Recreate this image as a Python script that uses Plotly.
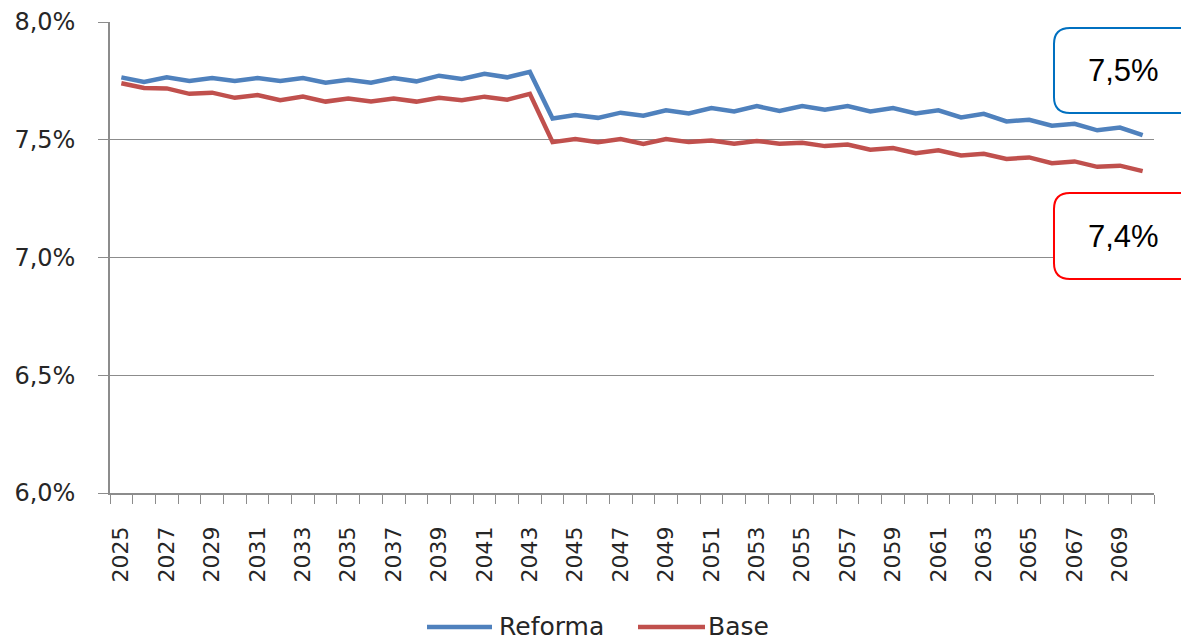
import plotly.graph_objects as go

years = list(range(2025, 2071))
reforma = [7.765, 7.745, 7.765, 7.750, 7.762, 7.750, 7.762, 7.750, 7.762, 7.742,
           7.755, 7.742, 7.762, 7.748, 7.772, 7.758, 7.780, 7.765, 7.788, 7.590,
           7.605, 7.593, 7.615, 7.602, 7.625, 7.612, 7.635, 7.620, 7.643, 7.622,
           7.643, 7.628, 7.643, 7.620, 7.635, 7.612, 7.625, 7.595, 7.610, 7.578,
           7.585, 7.560, 7.568, 7.540, 7.552, 7.520]
base = [7.740, 7.720, 7.718, 7.695, 7.700, 7.678, 7.690, 7.668, 7.683, 7.662,
        7.675, 7.662, 7.675, 7.662, 7.678, 7.668, 7.683, 7.670, 7.695, 7.490,
        7.503, 7.490, 7.503, 7.482, 7.503, 7.490, 7.497, 7.483, 7.495, 7.483,
        7.487, 7.473, 7.480, 7.458, 7.465, 7.443, 7.455, 7.433, 7.440, 7.418,
        7.425, 7.400, 7.408, 7.385, 7.390, 7.367]
series_names = ["Reforma", "Base"]
series_colors = ["#4F81BD", "#C0504D"]
y_ticks = [6.0, 6.5, 7.0, 7.5, 8.0]
y_ticktext = ["6,0%", "6,5%", "7,0%", "7,5%", "8,0%"]
x_label_years = list(range(2025, 2070, 2))
callout_texts = ["7,5%", "7,4%"]
callout_colors = ["#0070C0", "#FF0000"]

W, H = 1181, 642
ML, MR, MT, MB = 110, 27, 22, 149
PW, PH = W - ML - MR, H - MT - MB


def px(x):
    return (x - ML) / PW


def py(y):
    return (H - MB - y) / PH


def rounded_rect(x0, y0, x1, y1, r):
    def P(x, y):
        return f"{px(x):.5f},{py(y):.5f}"
    return (f"M {P(x0 + r, y0)} L {P(x1 - r, y0)} Q {P(x1, y0)} {P(x1, y0 + r)} "
            f"L {P(x1, y1 - r)} Q {P(x1, y1)} {P(x1 - r, y1)} "
            f"L {P(x0 + r, y1)} Q {P(x0, y1)} {P(x0, y1 - r)} "
            f"L {P(x0, y0 + r)} Q {P(x0, y0)} {P(x0 + r, y0)} Z")


fig = go.Figure()
for name, vals, col in zip(series_names, [reforma, base], series_colors):
    fig.add_trace(go.Scatter(x=years, y=vals, mode="lines", name=name,
                             line=dict(color=col, width=4.5), showlegend=False))

grid_col = "#8C8C8C"
text_col = "#262626"

fig.update_layout(
    width=W, height=H,
    margin=dict(l=ML, r=MR, t=MT, b=MB, pad=0, autoexpand=False),
    paper_bgcolor="white", plot_bgcolor="white",
    font=dict(family="DejaVu Sans", color=text_col),
    xaxis=dict(
        range=[2024.5, 2070.5], tickmode="array", tickvals=x_label_years,
        ticktext=[str(v) for v in x_label_years], tickangle=-90,
        tickfont=dict(size=22, family="DejaVu Sans", color=text_col),
        ticks="outside", ticklen=9, tickcolor="rgba(0,0,0,0)",
        ticklabelstandoff=14,
        showgrid=False, zeroline=False,
        showline=True, linecolor=grid_col, linewidth=1.5,
        minor=dict(tickmode="array", tickvals=[y - 0.5 for y in years] + [years[-1] + 0.5],
                   ticks="outside", ticklen=9, tickcolor=grid_col, tickwidth=1.2,
                   showgrid=False),
    ),
    yaxis=dict(
        range=[6.0, 8.0], tickmode="array", tickvals=y_ticks, ticktext=y_ticktext,
        tickfont=dict(size=24, family="DejaVu Sans", color=text_col),
        ticks="outside", ticklen=10, tickcolor=grid_col, tickwidth=1.2,
        ticklabelstandoff=18,
        showgrid=True, gridcolor=grid_col, gridwidth=1.2,
        zeroline=False, showline=True, linecolor=grid_col, linewidth=1.5,
    ),
)

# callout boxes
boxes = [(1054, 28, 1200, 113), (1054, 193, 1200, 279)]
for (x0, y0, x1, y1), txt, col in zip(boxes, callout_texts, callout_colors):
    fig.add_shape(type="path", xref="paper", yref="paper",
                  path=rounded_rect(x0, y0, x1, y1, 16),
                  line=dict(color=col, width=2), fillcolor="white", layer="above")
    fig.add_annotation(xref="paper", yref="paper", x=px(1123), y=py((y0 + y1) / 2),
                       text=txt, showarrow=False, xanchor="center", yanchor="middle",
                       font=dict(family="Liberation Sans", size=31, color="black"))

# legend drawn manually
legend_items = [(427, 492, 497), (638, 705, 706)]
for (lx0, lx1, tx), name, col in zip(legend_items, series_names, series_colors):
    fig.add_shape(type="line", xref="paper", yref="paper",
                  x0=px(lx0), x1=px(lx1), y0=py(627), y1=py(627),
                  line=dict(color=col, width=4.5))
    fig.add_annotation(xref="paper", yref="paper", x=px(tx), y=py(626),
                       text=name, showarrow=False, xanchor="left", yanchor="middle",
                       font=dict(family="DejaVu Sans", size=25, color=text_col))

fig.write_html("out.html", config={"displayModeBar": False},
               post_script="document.body.style.margin='0';document.body.style.overflow='hidden';")
